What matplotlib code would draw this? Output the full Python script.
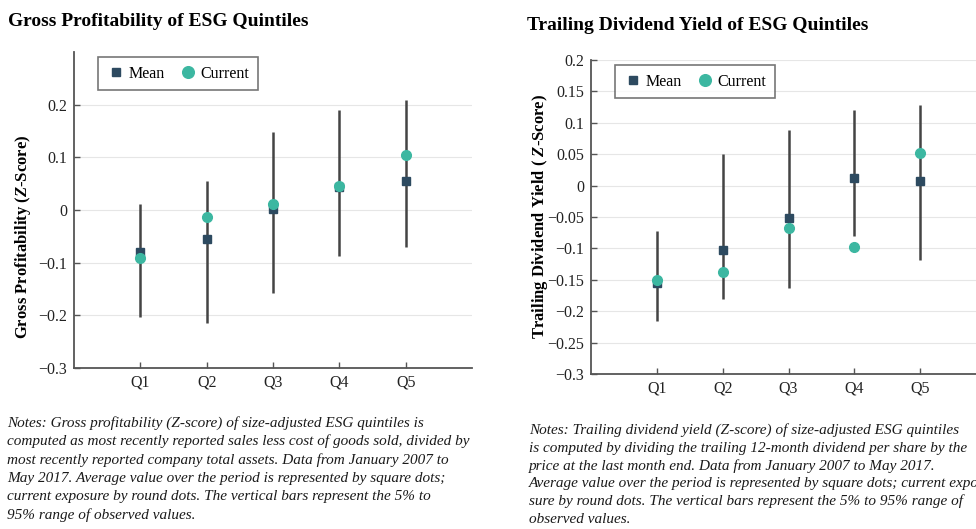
import matplotlib
matplotlib.use('Agg')
import matplotlib.pyplot as plt

plt.rcParams['font.family'] = ['Liberation Serif', 'DejaVu Serif']
plt.rcParams['mathtext.fontset'] = 'custom'
plt.rcParams['mathtext.it'] = 'Liberation Serif:italic:bold'

quintiles = ["Q1", "Q2", "Q3", "Q4", "Q5"]

# Gross profitability (Z-score)
gp_mean = [-0.079, -0.056, 0.001, 0.043, 0.055]
gp_current = [-0.091, -0.014, 0.011, 0.045, 0.105]
gp_low = [-0.203, -0.214, -0.158, -0.088, -0.070]
gp_high = [0.012, 0.056, 0.148, 0.189, 0.209]

# Trailing dividend yield (Z-score)
dy_mean = [-0.155, -0.103, -0.052, 0.012, 0.008]
dy_current = [-0.150, -0.138, -0.067, -0.098, 0.052]
dy_low = [-0.215, -0.180, -0.163, -0.081, -0.118]
dy_high = [-0.072, 0.050, 0.089, 0.121, 0.128]

gp_ticks = [-0.3, -0.2, -0.1, 0, 0.1, 0.2]
gp_ticklabels = ["\u22120.3", "\u22120.2", "\u22120.1", "0", "0.1", "0.2"]
dy_ticks = [-0.3, -0.25, -0.2, -0.15, -0.1, -0.05, 0, 0.05, 0.1, 0.15, 0.2]
dy_ticklabels = ["\u22120.3", "\u22120.25", "\u22120.2", "\u22120.15", "\u22120.1",
                 "\u22120.05", "0", "0.05", "0.1", "0.15", "0.2"]

MEAN_COLOR = '#2d4a60'
CUR_COLOR = '#3cb7a1'
BAR_COLOR = '#444444'
SPINE_COLOR = '#555555'

notes_gp = ["Notes: Gross profitability (Z-score) of size-adjusted ESG quintiles is",
            "computed as most recently reported sales less cost of goods sold, divided by",
            "most recently reported company total assets. Data from January 2007 to",
            "May 2017. Average value over the period is represented by square dots;",
            "current exposure by round dots. The vertical bars represent the 5% to",
            "95% range of observed values."]
# the reference page crops the right notes at the edge ("current expo-")
notes_dy = ["Notes: Trailing dividend yield (Z-score) of size-adjusted ESG quintiles",
            "is computed by dividing the trailing 12-month dividend per share by the",
            "price at the last month end. Data from January 2007 to May 2017.",
            "Average value over the period is represented by square dots; current expo-",
            "sure by round dots. The vertical bars represent the 5% to 95% range of",
            "observed values."]

W, H = 976, 529
fig = plt.figure(figsize=(W / 100, H / 100), dpi=100)


def px_axes(x0, y0, x1, y1):
    return fig.add_axes([x0 / W, 1 - y1 / H, (x1 - x0) / W, (y1 - y0) / H])


def draw_panel(ax, mean, cur, low, high, ylim, ticks, ticklabels, grid_ticks):
    x = list(range(1, len(quintiles) + 1))
    for t in grid_ticks:
        ax.axhline(t, color='#e6e6e6', lw=0.8, zorder=0)
    ax.vlines(x, low, high, color=BAR_COLOR, lw=1.8, zorder=2)
    ax.plot(x, mean, 's', color=MEAN_COLOR, ms=5.2, label='Mean', zorder=3)
    ax.plot(x, cur, 'o', color=CUR_COLOR, ms=7, label='Current', zorder=4)
    ax.set_xlim(0, 6)
    ax.set_ylim(*ylim)
    ax.set_xticks(x)
    ax.set_xticklabels(quintiles)
    ax.set_yticks(ticks)
    ax.set_yticklabels(ticklabels)
    for s in ['top', 'right']:
        ax.spines[s].set_visible(False)
    for s in ['left', 'bottom']:
        ax.spines[s].set_color(SPINE_COLOR)
        ax.spines[s].set_linewidth(1.3)
    ax.tick_params(direction='in', length=4, width=1, color=SPINE_COLOR,
                   labelsize=11.5, labelcolor='#222222', pad=5)
    leg = ax.legend(loc='upper left', ncol=2, frameon=True, fancybox=False,
                    fontsize=11.5, handletextpad=0.2, columnspacing=0.8,
                    borderpad=0.55, handlelength=1.2, markerscale=1.2,
                    bbox_to_anchor=(0.04, 1.01))
    leg.get_frame().set_edgecolor('#555555')
    leg.get_frame().set_linewidth(1.2)


def draw_notes(lines, x0, y_first, step):
    for i, line in enumerate(lines):
        fig.text(x0 / W, 1 - (y_first + i * step) / H, line, fontsize=11,
                 style='italic', va='baseline', ha='left', color='#1a1a1a')


ax1 = px_axes(74, 52, 472, 368)
draw_panel(ax1, gp_mean, gp_current, gp_low, gp_high, (-0.3, 0.3),
           gp_ticks, gp_ticklabels, [-0.2, -0.1, 0, 0.1, 0.2])
ax1.set_ylabel("Gross Profitability ($Z$-Score)", fontsize=12, fontweight='bold')
ax1.yaxis.set_label_coords(-0.103, 0.415)

ax2 = px_axes(591, 60, 986, 374)
draw_panel(ax2, dy_mean, dy_current, dy_low, dy_high, (-0.3, 0.2),
           dy_ticks, dy_ticklabels, dy_ticks[1:])
ax2.set_ylabel("Trailing Dividend Yield ( $Z$-Score)", fontsize=12, fontweight='bold')
ax2.yaxis.set_label_coords(-0.103, 0.503)

fig.text(8 / W, 1 - 21 / H, "Gross Profitability of ESG Quintiles",
         fontsize=14, fontweight='bold', va='center', ha='left')
fig.text(527 / W, 1 - 26 / H, "Trailing Dividend Yield of ESG Quintiles",
         fontsize=14, fontweight='bold', va='center', ha='left')

draw_notes(notes_gp, 7, 427, 18.3)
draw_notes(notes_dy, 529, 434, 17.8)

fig.savefig("out.png", dpi=100)
